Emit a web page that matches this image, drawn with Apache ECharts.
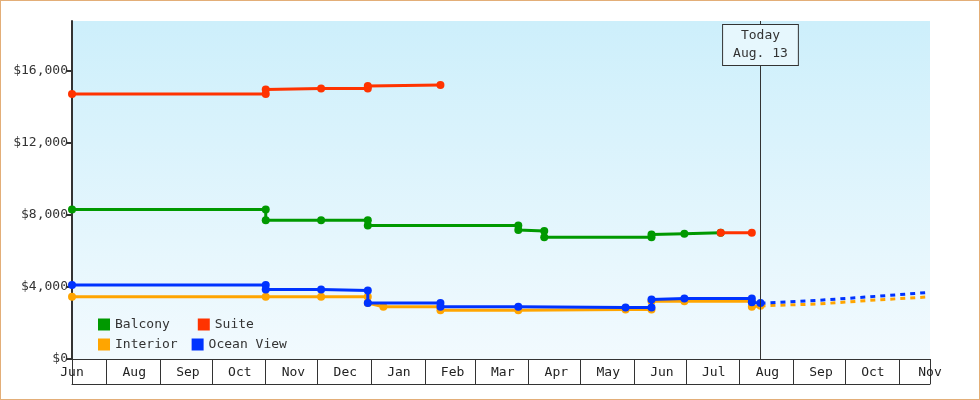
<!DOCTYPE html>
<html><head><meta charset="utf-8">
<script src="https://cdn.jsdelivr.net/npm/echarts@6/dist/echarts.min.js"></script>
<style>html,body{margin:0;padding:0;background:#fff}#c{width:978px;height:398px;border:1px solid #e3ae78}</style>
</head><body><div id="c"></div>
<script>
var monthNames = ['Jan','Feb','Mar','Apr','May','Jun','Jul','Aug','Sep','Oct','Nov','Dec'];
var yTicks = [0, 4000, 8000, 12000, 16000];
var seriesNames = ['Balcony','Suite','Interior','Ocean View'];
var colors = {'Balcony':'#009900','Suite':'#ff3300','Interior':'#ffa500','Ocean View':'#0033ff'};
var axisStart = '2015-07-12', axisEnd = '2016-11-19', today = '2016-08-13';
var suite = [['2015-07-12',14700],['2015-11-01',14700],['2015-11-01',14950],['2015-12-03',15000],['2015-12-30',15000],['2015-12-30',15150],['2016-02-10',15200],
  ['2016-07-21',null],['2016-07-21',7000],['2016-08-08',7000]];
var balcony = [['2015-07-12',8300],['2015-11-01',8300],['2015-11-01',7700],['2015-12-03',7700],['2015-12-30',7700],['2015-12-30',7400],['2016-03-26',7400],['2016-03-26',7150],['2016-04-10',7100],['2016-04-10',6750],['2016-06-11',6750],['2016-06-11',6900],['2016-06-30',6950],['2016-07-21',7000]];
var ocean = [['2015-07-12',4100],['2015-11-01',4100],['2015-11-01',3850],['2015-12-03',3850],['2015-12-30',3800],['2015-12-30',3100],['2016-02-10',3100],['2016-02-10',2900],['2016-03-26',2900],['2016-05-27',2850],['2016-06-11',2850],['2016-06-11',3300],['2016-06-30',3350],['2016-08-08',3350],['2016-08-08',3150],['2016-08-13',3100]];
var interior = [['2015-07-12',3450],['2015-11-01',3450],['2015-12-03',3450],['2015-12-30',3450],['2015-12-30',3100],['2016-01-08',2900],['2016-02-10',2900],['2016-02-10',2700],['2016-03-26',2700],['2016-05-27',2750],['2016-06-11',2750],['2016-06-11',3200],['2016-06-30',3200],['2016-08-08',3200],['2016-08-08',2900],['2016-08-13',2950]];
var oceanForecast = [['2016-08-13',3100],['2016-09-15',3250],['2016-10-15',3450],['2016-11-19',3700]];
var interiorForecast = [['2016-08-13',2950],['2016-09-15',3050],['2016-10-15',3250],['2016-11-19',3450]];

var font = 'DejaVu Sans Mono';
var DAY = 86400000;
function t(s){return new Date(s+'T00:00:00').getTime();}
var chart = echarts.init(document.getElementById('c'));
function line(name, data, z){
  return {name:name, type:'line', data:data, connectNulls:false, symbol:'circle', symbolSize:8, z:z,
    lineStyle:{width:3,color:colors[name]}, itemStyle:{color:colors[name]}};
}
var s = [line('Interior', interior, 2), line('Ocean View', ocean, 3), line('Balcony', balcony, 4), line('Suite', suite, 5)];
s.push({name:'if', type:'line', data:interiorForecast, symbol:'none', lineStyle:{width:3,type:[5,5],color:colors['Interior']}, z:2});
s.push({name:'of', type:'line', data:oceanForecast, symbol:'none', lineStyle:{width:3,type:[5,5],color:colors['Ocean View']}, z:3,
  markLine:{silent:true, symbol:'none', lineStyle:{color:'#333',width:1,type:'solid'},
    label:{position:'end', distance:-44, formatter:'Today\nAug. 13', fontFamily:font, fontSize:13, color:'#333', lineHeight:18,
      backgroundColor:'#e6f7fd', borderColor:'#333', borderWidth:1, padding:[2,10,2,10]},
    data:[{xAxis:t(today)}]}});
var mfmt = function(v){return monthNames[new Date(v).getMonth()];};
chart.setOption({
  animation:false,
  grid:{left:71, right:49, top:20, bottom:40,
    show:true, borderWidth:0, backgroundColor:{type:'linear',x:0,y:0,x2:0,y2:1,colorStops:[{offset:0,color:'#cdeffb'},{offset:1,color:'#f2fafe'}]}},
  legend:[
    {data:['Balcony','Suite'], left:92, top:312, icon:'rect', itemWidth:12, itemHeight:12, itemGap:28, textStyle:{fontFamily:font,fontSize:13,color:'#333'}},
    {data:['Interior','Ocean View'], left:92, top:332, icon:'rect', itemWidth:12, itemHeight:12, itemGap:14, textStyle:{fontFamily:font,fontSize:13,color:'#333'}}
  ],
  xAxis:[
    {type:'time', min:t(axisStart), max:t(axisEnd), minInterval:28*DAY, maxInterval:31*DAY,
      axisLine:{lineStyle:{color:'#333',width:1}}, axisTick:{show:true,length:25,lineStyle:{color:'#333'}},
      axisLabel:{show:false}, splitLine:{show:false}},
    {type:'time', position:'bottom', min:t(axisStart)-16*DAY, max:t(axisEnd)-16*DAY, minInterval:28*DAY, maxInterval:31*DAY,
      axisLine:{show:false}, axisTick:{show:false}, splitLine:{show:false},
      axisLabel:{formatter:mfmt, margin:7, fontFamily:font, fontSize:13, color:'#222', showMinLabel:true, showMaxLabel:true, hideOverlap:false}},
    {type:'time', position:'bottom', offset:25, min:t(axisStart), max:t(axisEnd),
      axisLine:{show:true,lineStyle:{color:'#333'}}, axisTick:{show:false}, axisLabel:{show:false}, splitLine:{show:false}}
  ],
  yAxis:{type:'value', min:0, max:18750, interval:4000,
    axisLine:{show:true,lineStyle:{color:'#333',width:2}}, axisTick:{show:true,length:5,lineStyle:{color:'#333',width:2}},
    splitLine:{show:false},
    axisLabel:{fontFamily:font, fontSize:13, color:'#333', margin:4, showMaxLabel:false,
      formatter:function(v){return yTicks.indexOf(v)>=0 ? '$'+v.toLocaleString('en-US') : '';}}},
  series:s
});
</script></body></html>
